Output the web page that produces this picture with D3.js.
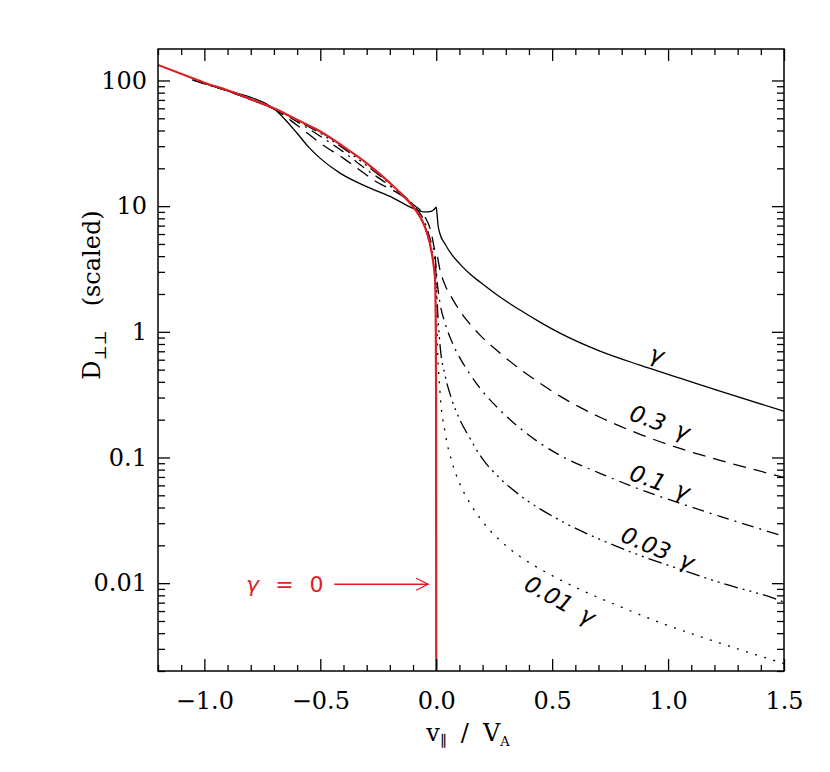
<!DOCTYPE html>
<html>
<head>
<meta charset="utf-8">
<script src="https://cdn.jsdelivr.net/npm/d3@7"></script>
<style>
  body { margin: 0; background: #fff; }
  svg { display: block; }
</style>
</head>
<body>
<div id="chart"></div>
<script>
// values (v = v_par / V_A, d = D_perp,perp scaled)
var vRed = [-1.2, -1.05, -1.0, -0.9, -0.8, -0.7, -0.6, -0.5, -0.4, -0.3, -0.2, -0.15, -0.1, -0.07, -0.05, -0.03, -0.02, -0.014, -0.008, -0.005, -0.002, -0.0005, 0];
var dRed = [133, 104, 96, 83.5, 71, 60, 48.6, 39.3, 29.8, 22, 15.3, 12.5, 9.9, 8.2, 6.9, 5.3, 4.3, 3.7, 3.0, 2.6, 1.2, 0.3, 0.002];

var vG1 = [-1.05, -1.0, -0.9, -0.8, -0.75, -0.7, -0.65, -0.6, -0.55, -0.5, -0.415, -0.3, -0.185, -0.1, -0.048, -0.022, -0.0095, 0.0, 0.0034, 0.0078, 0.0164, 0.038, 0.0681, 0.1026, 0.1458, 0.1889, 0.2751, 0.3614, 0.4476, 0.5338, 0.7063, 0.8788, 1.0513, 1.2238, 1.5];
var dG1 = [102, 95, 83, 73.5, 67.5, 59.5, 48.5, 38, 29.5, 24, 18.3, 14.3, 11.6, 9.6, 9.0, 9.1, 9.4, 9.8, 8.67, 7.08, 6.0, 5.0, 4.09, 3.46, 2.88, 2.49, 1.89, 1.49, 1.195, 0.976, 0.702, 0.543, 0.428, 0.337, 0.233];

var vG03 = [-1.05, -1.0, -0.9, -0.8, -0.7, -0.6, -0.5, -0.4, -0.34, -0.26, -0.16, -0.1, -0.05, -0.02, -0.008, 0.0034, 0.0164, 0.038, 0.0681, 0.1026, 0.1458, 0.1889, 0.2751, 0.3614, 0.4476, 0.5338, 0.7063, 0.8788, 1.0513, 1.2238, 1.5];
var dG03 = [101, 94.5, 82.5, 70.5, 59.5, 44, 31.7, 24, 20, 15.7, 12.5, 10.3, 8.3, 6.0, 4.6, 4.09, 3.10, 2.36, 1.855, 1.462, 1.152, 0.941, 0.677, 0.5045, 0.39, 0.3075, 0.209, 0.153, 0.118, 0.095, 0.0695];

var vG01 = [-1.05, -1.0, -0.9, -0.8, -0.7, -0.6, -0.5, -0.4, -0.3, -0.2, -0.1, -0.05, -0.02, -0.005, 0.0034, 0.0164, 0.038, 0.0681, 0.1026, 0.1458, 0.1889, 0.2751, 0.3614, 0.4476, 0.5338, 0.7063, 0.8788, 1.0513, 1.2238, 1.5];
var dG01 = [101, 94.5, 82.5, 70.5, 59.5, 47, 36, 27, 19.5, 14.5, 10.2, 7.5, 5.0, 4.0, 2.58, 1.69, 1.173, 0.828, 0.617, 0.46, 0.356, 0.238, 0.171, 0.13, 0.104, 0.0748, 0.0558, 0.0432, 0.034, 0.0236];

var vG003 = [-1.05, -1.0, -0.9, -0.8, -0.7, -0.6, -0.5, -0.4, -0.3, -0.2, -0.1, -0.05, -0.02, -0.005, 0.0034, 0.0164, 0.038, 0.0681, 0.1026, 0.1458, 0.1889, 0.2751, 0.3614, 0.5338, 0.7063, 0.8788, 1.0513, 1.2238, 1.483, 1.5];
var dG003 = [101, 94.5, 82.5, 70.5, 59.5, 48, 38, 28.8, 21, 15, 10, 7, 4.5, 3.8, 1.79, 0.783, 0.452, 0.286, 0.198, 0.142, 0.104, 0.0683, 0.05, 0.0316, 0.0223, 0.0166, 0.0129, 0.0101, 0.00728, 0.00708];

var vG001 = [-1.05, -1.0, -0.9, -0.8, -0.7, -0.6, -0.5, -0.4, -0.3, -0.2, -0.1, -0.05, -0.02, -0.005, 0.001, 0.0034, 0.0164, 0.038, 0.0681, 0.1026, 0.1458, 0.1889, 0.232, 0.2751, 0.3614, 0.4907, 0.62, 0.7926, 0.9651, 1.1376, 1.3101, 1.5];
var dG001 = [101, 94.5, 82.5, 70.5, 59.5, 48.5, 39, 29.5, 21.8, 15.2, 9.9, 6.9, 4.3, 3.0, 2.0, 1.03, 0.331, 0.159, 0.0916, 0.0612, 0.0432, 0.0328, 0.0263, 0.0219, 0.0163, 0.01173, 0.00891, 0.00652, 0.00486, 0.00376, 0.00296, 0.00229];

var xTicks = [-1.0, -0.5, 0.0, 0.5, 1.0, 1.5];
var xTickLabels = ["\u22121.0", "\u22120.5", "0.0", "0.5", "1.0", "1.5"];
var yTicks = [0.01, 0.1, 1, 10, 100];
var yTickLabels = ["0.01", "0.1", "1", "10", "100"];

// curve labels: text, position in data units, rotation
var curveLabels = [
  { num: "", v: 0.952, d: 0.66, angle: 18 },
  { num: "0.3", v: 0.965, d: 0.19, angle: 20 },
  { num: "0.1", v: 0.965, d: 0.0635, angle: 20 },
  { num: "0.03", v: 0.956, d: 0.0189, angle: 23 },
  { num: "0.01", v: 0.534, d: 0.0073, angle: 29 }
];

var margin = { top: 49, right: 46, bottom: 101, left: 158 };
var width = 830 - margin.left - margin.right;
var height = 772 - margin.top - margin.bottom;

var svg = d3.select('#chart').append('svg')
    .attr('width', 830)
    .attr('height', 772)
    .append('g')
    .attr('transform', 'translate(' + margin.left + ',' + margin.top + ')');

var x = d3.scaleLinear().domain([-1.2, 1.5]).range([0, width]);
var y = d3.scaleLog().domain([0.002, 178]).range([height, 0]);

var red = '#dd1f26';

svg.append('clipPath').attr('id', 'clip')
    .append('rect').attr('width', width).attr('height', height);

// curves
var line = d3.line()
    .x(function (d) { return x(d[0]); })
    .y(function (d) { return y(d[1]); })
    .curve(d3.curveMonotoneX);

var series = [
  { v: vG1, d: dG1, dash: null },
  { v: vG03, d: dG03, dash: '13,8' },
  { v: vG01, d: dG01, dash: '12,6,2,6' },
  { v: vG003, d: dG003, dash: '14,5,2,5,2,5,2,5' },
  { v: vG001, d: dG001, dash: '2,7.5' }
];

var plot = svg.append('g').attr('clip-path', 'url(#clip)');

series.forEach(function (s) {
    plot.append('path')
        .datum(d3.zip(s.v, s.d))
        .attr('fill', 'none')
        .attr('stroke', '#000')
        .attr('stroke-width', 1.3)
        .attr('stroke-dasharray', s.dash)
        .attr('d', line);
});

plot.append('path')
    .datum(d3.zip(vRed, dRed))
    .attr('fill', 'none')
    .attr('stroke', red)
    .attr('stroke-width', 2.2)
    .attr('d', line);

// axes - major and minor ticks pointing inward, on all four sides
var tickFont = '"DejaVu Serif", serif';
var xMinor = d3.range(-12, 16).map(function (i) { return i / 10; })
    .filter(function (t) { return Math.abs(t * 2 - Math.round(t * 2)) > 1e-6; });
var yMinor = y.ticks().filter(function (t) {
    return Math.abs(Math.log10(t) - Math.round(Math.log10(t))) > 1e-6;
});

svg.append('g')
    .attr('transform', 'translate(0,' + height + ')')
    .call(d3.axisBottom(x).tickValues(xTicks).tickSize(-12).tickPadding(21)
        .tickFormat(function (d, i) { return xTickLabels[i]; }));
svg.append('g')
    .attr('transform', 'translate(0,' + height + ')')
    .call(d3.axisBottom(x).tickValues(xMinor).tickSize(-6).tickFormat(''));
svg.append('g')
    .call(d3.axisTop(x).tickValues(xTicks).tickSize(-12).tickFormat(''));
svg.append('g')
    .call(d3.axisTop(x).tickValues(xMinor).tickSize(-6).tickFormat(''));

svg.append('g')
    .call(d3.axisLeft(y).tickValues(yTicks).tickSize(-12).tickPadding(11)
        .tickFormat(function (d, i) { return yTickLabels[i]; }));
svg.append('g')
    .call(d3.axisLeft(y).tickValues(yMinor).tickSize(-7).tickFormat(''));
svg.append('g')
    .attr('transform', 'translate(' + width + ',0)')
    .call(d3.axisRight(y).tickValues(yTicks).tickSize(-12).tickFormat(''));
svg.append('g')
    .attr('transform', 'translate(' + width + ',0)')
    .call(d3.axisRight(y).tickValues(yMinor).tickSize(-7).tickFormat(''));

svg.selectAll('.domain').remove();
svg.selectAll('.tick line').attr('stroke', '#000').attr('stroke-width', 1.3);
svg.selectAll('.tick text')
    .attr('font-family', tickFont)
    .attr('font-size', 24)
    .attr('fill', '#000');

// frame
svg.append('rect')
    .attr('width', width)
    .attr('height', height)
    .attr('fill', 'none')
    .attr('stroke', '#000')
    .attr('stroke-width', 1.5);

// axis titles
var xt = svg.append('text')
    .attr('x', width / 2 - 3)
    .attr('y', height + 70)
    .attr('text-anchor', 'middle')
    .attr('font-family', tickFont)
    .attr('font-size', 24);
xt.append('tspan').text('v');
xt.append('tspan').attr('font-size', 15).attr('dy', 5).text('\u2225');
xt.append('tspan').attr('dy', -5).attr('dx', 14).text('/');
xt.append('tspan').attr('dx', 14).text('V');
xt.append('tspan').attr('font-size', 13).attr('dy', 5).text('A');

var yt = svg.append('text')
    .attr('transform', 'translate(' + (-58) + ',' + 246 + ') rotate(-90)')
    .attr('text-anchor', 'middle')
    .attr('font-family', tickFont)
    .attr('font-size', 24);
yt.append('tspan').text('D');
yt.append('tspan').attr('font-size', 16).attr('dy', 6).text('\u22a5\u22a5');
yt.append('tspan').attr('dy', -6).attr('dx', 24).text('(scaled)');

// curve labels
curveLabels.forEach(function (l) {
    var t = svg.append('text')
        .attr('transform', 'translate(' + x(l.v) + ',' + y(l.d) + ') rotate(' + l.angle + ')')
        .attr('text-anchor', 'middle')
        .attr('dy', '0.35em')
        .attr('font-family', '"DejaVu Sans", sans-serif')
        .attr('font-style', 'italic')
        .attr('font-size', 23);
    if (l.num) {
        t.append('tspan').text(l.num);
        t.append('tspan').attr('dx', 12).text('\u03b3');
    } else {
        t.append('tspan').text('\u03b3');
    }
});

// gamma = 0 annotation with arrow
var arrowY = 0.0098;
var ax0 = x(-0.44), ax1 = x(-0.035), ay = y(arrowY);
svg.append('line')
    .attr('x1', ax0).attr('x2', ax1)
    .attr('y1', ay).attr('y2', ay)
    .attr('stroke', red).attr('stroke-width', 1.3);
svg.append('path')
    .attr('d', 'M' + (ax1 - 12) + ',' + (ay - 6) + 'L' + ax1 + ',' + ay + 'L' + (ax1 - 12) + ',' + (ay + 6))
    .attr('fill', 'none')
    .attr('stroke', red).attr('stroke-width', 1.3);
var rt = svg.append('text')
    .attr('x', x(-0.82))
    .attr('y', ay + 8)
    .attr('font-family', '"DejaVu Sans", sans-serif')
    .attr('font-size', 22)
    .attr('fill', red);
rt.append('tspan').attr('font-style', 'italic').text('\u03b3');
rt.append('tspan').attr('dx', 16).text('=');
rt.append('tspan').attr('dx', 16).text('0');
</script>
</body>
</html>
